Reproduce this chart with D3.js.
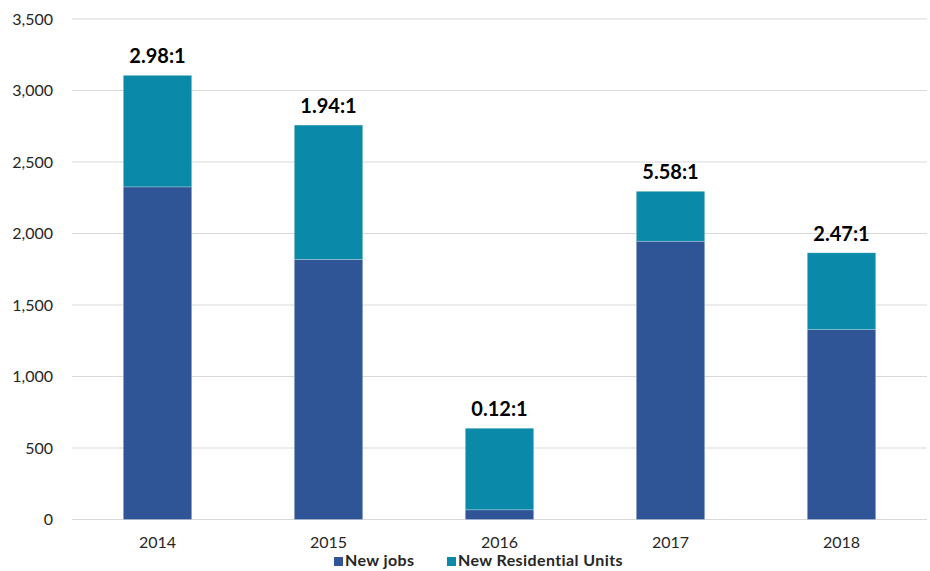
<!DOCTYPE html>
<html>
<head>
<meta charset="utf-8">
<script src="https://cdn.jsdelivr.net/npm/d3@7"></script>
<style>
  html, body { margin: 0; padding: 0; background: #fff; }
  svg { display: block; }
  text { font-family: Lato, "Open Sans", sans-serif; }
</style>
</head>
<body>
<svg id="chart" width="930" height="571"></svg>
<script>
// Yearly counts of new jobs and new residential units
const years = ["2014", "2015", "2016", "2017", "2018"];
const newJobs = [2326, 1819, 68, 1946, 1328];
const newUnits = [780, 939, 570, 349, 537];
const ratioLabels = ["2.98:1", "1.94:1", "0.12:1", "5.58:1", "2.47:1"];
const yTicks = [0, 500, 1000, 1500, 2000, 2500, 3000, 3500];
const seriesNames = ["New jobs", "New Residential Units"];
const colors = ["#2F5597", "#0A8AA8"];

const svg = d3.select("#chart");
const margin = { left: 72, right: 3, top: 19, bottom: 51.5 };
const W = 930, H = 571;

const x = d3.scaleBand().domain(years)
  .range([margin.left, W - margin.right]).paddingInner(0.6).paddingOuter(0.3);
const y = d3.scaleLinear().domain([0, 3500]).range([H - margin.bottom, margin.top]);

// gridlines
svg.append("g").selectAll("line").data(yTicks).join("line")
  .attr("x1", margin.left).attr("x2", W - margin.right)
  .attr("y1", d => y(d)).attr("y2", d => y(d))
  .attr("stroke", "#d9d9d9").attr("stroke-width", 1);

// y axis labels
const yAxis = d3.axisLeft(y).tickValues(yTicks).tickFormat(d3.format(",")).tickSize(0).tickPadding(19);
svg.append("g").attr("transform", `translate(${margin.left},0)`).call(yAxis)
  .call(g => g.select(".domain").remove())
  .call(g => g.selectAll("text").attr("font-size", 16).attr("fill", "#262626")
    .attr("font-family", "Lato, 'Open Sans', sans-serif"));

// x axis labels
const xAxis = d3.axisBottom(x).tickSize(0).tickPadding(17);
svg.append("g").attr("transform", `translate(0,${y(0)})`).call(xAxis)
  .call(g => g.select(".domain").remove())
  .call(g => g.selectAll("text").attr("font-size", 16).attr("fill", "#262626")
    .attr("font-family", "Lato, 'Open Sans', sans-serif"));

// stacked bars
const rows = years.map((yr, i) => ({ year: yr, jobs: newJobs[i], units: newUnits[i] }));
const stack = d3.stack().keys(["jobs", "units"])(rows);
svg.append("g").selectAll("g").data(stack).join("g")
  .attr("fill", (d, i) => colors[i])
  .selectAll("rect").data(d => d).join("rect")
  .attr("x", d => x(d.data.year))
  .attr("width", x.bandwidth())
  .attr("y", d => y(d[1]))
  .attr("height", d => y(d[0]) - y(d[1]))
  .attr("stroke", "rgba(255,255,255,0.3)").attr("stroke-width", 0.8);

// ratio labels above each bar
svg.append("g").selectAll("text").data(rows).join("text")
  .attr("x", d => x(d.year) + x.bandwidth() / 2)
  .attr("y", d => y(d.jobs + d.units) - 12)
  .attr("text-anchor", "middle")
  .attr("font-size", 20).attr("font-weight", "bold").attr("fill", "#000")
  .text((d, i) => ratioLabels[i]);

// legend
const legend = svg.append("g").attr("transform", "translate(334,566)");
const legendX = [0, 113];
seriesNames.forEach((name, i) => {
  const g = legend.append("g").attr("transform", `translate(${legendX[i]},0)`);
  g.append("rect").attr("x", 0).attr("y", -9).attr("width", 9).attr("height", 9).attr("fill", colors[i]);
  g.append("text").attr("x", 11).attr("y", 0).attr("font-size", 16).attr("font-weight", "bold")
    .attr("letter-spacing", 0.4).attr("fill", "#262626").text(name);
});
</script>
</body>
</html>
